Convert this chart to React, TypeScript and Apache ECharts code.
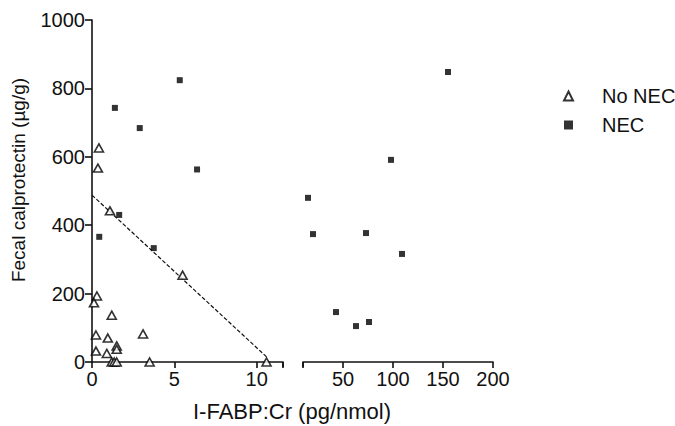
import React, { useEffect, useRef } from "react";
import * as echarts from "echarts";

const noNecX = [0.42, 0.36, 1.09, 5.5, 0.3, 0.12, 1.2, 3.1, 0.24, 0.96, 1.5, 1.5, 0.24, 0.9, 1.2, 1.35, 1.5, 3.5, 10.6];
const noNecY = [626, 567, 442, 254, 193, 173, 137, 82, 79, 70, 47, 37, 32, 25, 0, 0, 0, 0, 0];
const necLeftX = [1.39, 2.9, 5.33, 6.38, 0.44, 1.65, 3.75];
const necLeftY = [743, 684, 824, 563, 366, 430, 333];
const necRightX = [155, 98, 15, 20, 73, 109, 43, 63, 76];
const necRightY = [848, 591, 480, 374, 377, 316, 146, 105, 117];
const fitX = [0, 10.6];
const fitY = [488, 15];
const leftTicks = [0, 5, 10, 11.6];
const leftLabels = [0, 5, 10];
const rightTicks = [10, 50, 100, 150, 200];
const rightLabels = [50, 100, 150, 200];
const yTicks = [0, 200, 400, 600, 800, 1000];

const FONT = "Liberation Sans, Arial, sans-serif";
const INK = "#111111";

export default function App() {
  const ref = useRef<HTMLDivElement>(null);
  useEffect(() => {
    if (!ref.current) return;
    const chart = echarts.init(ref.current, null, { renderer: "svg" });
    const zip = (xs: number[], ys: number[]) => xs.map((x, i) => [x, ys[i]]);
    const lbl = (v: number) => String(v);
    const baseX = (min: number, max: number, grid: number) => ({
      type: "value",
      gridIndex: grid,
      min,
      max,
      splitLine: { show: false },
      axisLine: { show: true, onZero: false, lineStyle: { color: INK, width: 1.6 } },
    });
    chart.setOption({
      animation: false,
      backgroundColor: "#ffffff",
      textStyle: { fontFamily: FONT },
      grid: [
        { left: 92, top: 20, width: 191, height: 342 },
        { left: 303, top: 20, width: 190, height: 342 },
      ],
      xAxis: [
        {
          ...baseX(0, 11.6, 0),
          axisTick: { show: true, length: 6, lineStyle: { color: INK, width: 1.6 }, customValues: leftTicks },
          axisLabel: { customValues: leftLabels, formatter: lbl, color: INK, fontSize: 20, fontFamily: FONT, margin: 7 },
        },
        {
          ...baseX(10, 200, 1),
          axisTick: { show: true, length: 6, lineStyle: { color: INK, width: 1.6 }, customValues: rightTicks },
          axisLabel: { customValues: rightLabels, formatter: lbl, color: INK, fontSize: 20, fontFamily: FONT, margin: 7 },
        },
        {
          ...baseX(0, 11.6, 0),
          axisLine: { show: false },
          axisTick: { show: true, inside: true, length: 5, lineStyle: { color: INK, width: 1.6 }, customValues: [11.6] },
          axisLabel: { show: false },
        },
        {
          ...baseX(10, 200, 1),
          axisLine: { show: false },
          axisTick: { show: true, inside: true, length: 5, lineStyle: { color: INK, width: 1.6 }, customValues: [10] },
          axisLabel: { show: false },
        },
      ],
      yAxis: [
        {
          type: "value",
          gridIndex: 0,
          min: 0,
          max: 1000,
          interval: 200,
          splitLine: { show: false },
          axisLine: { show: true, lineStyle: { color: INK, width: 1.6 } },
          axisTick: { show: true, length: 7, lineStyle: { color: INK, width: 1.6 }, customValues: yTicks },
          axisLabel: { formatter: lbl, color: INK, fontSize: 20, fontFamily: FONT, margin: 7 },
        },
        {
          type: "value",
          gridIndex: 1,
          min: 0,
          max: 1000,
          show: false,
        },
      ],
      graphic: [
        {
          type: "text",
          x: 292,
          y: 411,
          style: {
            text: "I-FABP:Cr (pg/nmol)",
            fill: INK,
            fontSize: 22,
            fontFamily: FONT,
            align: "center",
            verticalAlign: "middle",
          },
        },
        {
          type: "text",
          x: 18,
          y: 180,
          rotation: Math.PI / 2,
          style: {
            text: "Fecal calprotectin (µg/g)",
            fill: INK,
            fontSize: 19,
            fontFamily: FONT,
            align: "center",
            verticalAlign: "middle",
          },
        },
      ],
      legend: {
        orient: "vertical",
        left: 558,
        top: 81,
        itemGap: 9,
        itemWidth: 9,
        itemHeight: 9,
        data: ["No NEC", "NEC"],
        textStyle: { color: INK, fontSize: 20, fontFamily: FONT, lineHeight: 20, padding: [0, 0, 0, 24] },
      },
      series: [
        {
          name: "Fit",
          type: "line",
          xAxisIndex: 0,
          yAxisIndex: 0,
          data: zip(fitX, fitY),
          symbol: "none",
          lineStyle: { color: INK, width: 1.2, type: [4, 2] },
          z: 1,
        },
        {
          name: "No NEC",
          type: "scatter",
          xAxisIndex: 0,
          yAxisIndex: 0,
          data: zip(noNecX, noNecY),
          symbol: "triangle",
          symbolSize: [9, 8],
          itemStyle: { color: "#ffffff", borderColor: "#000", borderWidth: 1.6 },
          z: 3,
        },
        {
          name: "NEC",
          type: "scatter",
          xAxisIndex: 0,
          yAxisIndex: 0,
          data: zip(necLeftX, necLeftY),
          symbol: "rect",
          symbolSize: 6,
          itemStyle: { color: "#000000" },
          z: 4,
        },
        {
          name: "NEC",
          type: "scatter",
          xAxisIndex: 1,
          yAxisIndex: 1,
          data: zip(necRightX, necRightY),
          symbol: "rect",
          symbolSize: 6,
          itemStyle: { color: "#000000" },
          z: 4,
        },
      ],
    });
    return () => chart.dispose();
  }, []);
  return (
    <div
      ref={ref}
      style={{ position: "fixed", left: 0, top: 0, width: 675, height: 426, background: "#fff" }}
    />
  );
}
